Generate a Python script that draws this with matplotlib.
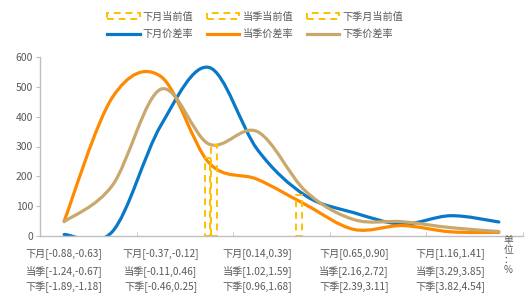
import numpy as np
import matplotlib
matplotlib.use("Agg")
import matplotlib.pyplot as plt
from matplotlib.path import Path
from matplotlib.patches import PathPatch, Rectangle
from matplotlib.lines import Line2D

plt.rcParams['font.family'] = ['Noto Sans CJK SC', 'DejaVu Sans']

# ---- data ----
categories = list(range(10))
tick_labels = [
    "下月[-0.88,-0.63]\n当季[-1.24,-0.67]\n下季[-1.89,-1.18]",
    "下月[-0.37,-0.12]\n当季[-0.11,0.46]\n下季[-0.46,0.25]",
    "下月[0.14,0.39]\n当季[1.02,1.59]\n下季[0.96,1.68]",
    "下月[0.65,0.90]\n当季[2.16,2.72]\n下季[2.39,3.11]",
    "下月[1.16,1.41]\n当季[3.29,3.85]\n下季[3.82,4.54]",
]
label_positions = [0, 2, 4, 6, 8]

next_month_spread = [5, 15, 370, 565, 290, 135, 78, 40, 68, 47]
this_quarter_spread = [50, 465, 535, 245, 190, 105, 22, 35, 14, 12]
next_quarter_spread = [48, 170, 492, 308, 350, 150, 55, 48, 28, 15]

# current values: (category position, height)
next_month_current_x = [4.86]
next_month_current_h = [138]
this_quarter_current_x = [2.97]
this_quarter_current_h = [262]
next_quarter_current_x = [3.10]
next_quarter_current_h = [305]
current_width = 0.12

series_names = ["下月价差率", "当季价差率", "下季价差率"]
current_names = ["下月当前值", "当季当前值", "下季月当前值"]

# ---- style ----
C_BLUE = "#0A78C8"
C_ORANGE = "#FF8A00"
C_TAN = "#C9A86E"
C_YELLOW = "#FFC000"
C_TEXT = "#595959"
C_AXIS = "#BFBFBF"

fig = plt.figure(figsize=(5.28, 3.0), dpi=100)
ax = fig.add_axes([40/528, 1-236/300, (523-40)/528, (236-57)/300])


def smooth_path(xs, ys):
    pts = np.column_stack([xs, ys]).astype(float)
    n = len(pts)
    verts = [pts[0]]
    codes = [Path.MOVETO]
    for i in range(n-1):
        p0 = pts[i-1] if i > 0 else pts[i]
        p1 = pts[i]
        p2 = pts[i+1]
        p3 = pts[i+2] if i+2 < n else pts[i+1]
        c1 = p1 + (p2 - p0) / 6.0
        c2 = p2 - (p3 - p1) / 6.0
        verts += [c1, c2, p2]
        codes += [Path.CURVE4]*3
    return Path(verts, codes)


for vals, col in [(next_month_spread, C_BLUE), (this_quarter_spread, C_ORANGE),
                  (next_quarter_spread, C_TAN)]:
    patch = PathPatch(smooth_path(categories, vals), facecolor='none',
                      edgecolor=col, lw=2.3, capstyle='round', joinstyle='round')
    ax.add_patch(patch)

for xs, hs in [(next_month_current_x, next_month_current_h),
               (this_quarter_current_x, this_quarter_current_h),
               (next_quarter_current_x, next_quarter_current_h)]:
    ax.bar(xs, hs, width=current_width, fill=False, edgecolor=C_YELLOW,
           linestyle=(0, (3.5, 2.5)), linewidth=1.4)

ax.set_xlim(-0.5, 9.5)
ax.set_ylim(0, 600)
ax.set_yticks(range(0, 601, 100))
ax.tick_params(axis='y', colors=C_AXIS, labelcolor=C_TEXT, labelsize=7.5,
               length=3, direction='out', pad=2)
ax.set_xticks(label_positions)
ax.set_xticklabels(tick_labels, fontsize=7.3, color=C_TEXT, linespacing=1.6)
ax.tick_params(axis='x', length=0, pad=9)
# minor ticks at category boundaries
ax.set_xticks([1.5, 3.5, 5.5, 7.5, 9.5], minor=True)
ax.tick_params(axis='x', which='minor', length=3, direction='in', colors=C_AXIS)

for s in ['top', 'right']:
    ax.spines[s].set_visible(False)
for s in ['left', 'bottom']:
    ax.spines[s].set_color(C_AXIS)
    ax.spines[s].set_linewidth(1.0)

fig.text(508/528, 1-255/300, "单\n位\n：\n%", fontsize=7, color=C_TEXT,
         ha='center', va='center', linespacing=1.0)

# legend
handles = []
labels = []
line_cols = [C_BLUE, C_ORANGE, C_TAN]
for i in range(3):
    handles.append(Rectangle((0, 0), 1, 1, fill=False, edgecolor=C_YELLOW,
                             linestyle=(0, (3.5, 2.5)), linewidth=1.4))
    labels.append(current_names[i])
    handles.append(Line2D([], [], color=line_cols[i], lw=2.3))
    labels.append(series_names[i])

leg = fig.legend(handles, labels, ncol=3, loc='upper center',
                 bbox_to_anchor=(0.483, 0.985), frameon=False, fontsize=7.3,
                 handlelength=3.2, handleheight=0.6, columnspacing=1.35,
                 handletextpad=0.3, labelspacing=0.75, borderaxespad=0.3)
for t in leg.get_texts():
    t.set_color(C_TEXT)

fig.savefig("out.png", dpi=100)
